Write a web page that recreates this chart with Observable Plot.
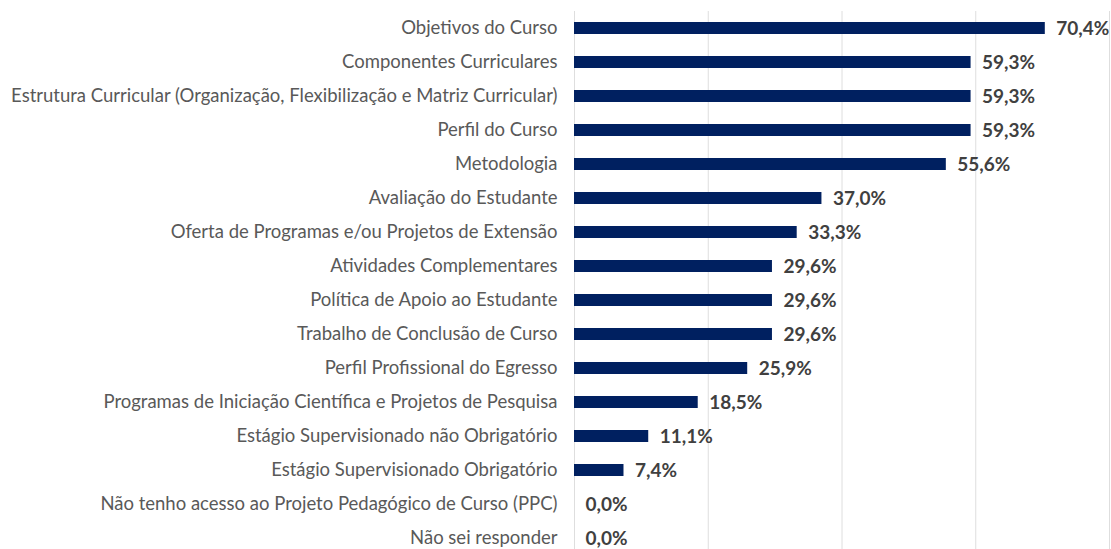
<!DOCTYPE html>
<html>
<head>
<meta charset="utf-8">
<script src="https://cdn.jsdelivr.net/npm/d3@7"></script>
<script src="https://cdn.jsdelivr.net/npm/@observablehq/plot@0.6"></script>
<style>
  html, body { margin: 0; padding: 0; background: #fff; }
  #chart { width: 1111px; height: 549px; overflow: hidden; }
</style>
</head>
<body>
<div id="chart"></div>
<script>
const categories = [
  "Objetivos do Curso",
  "Componentes Curriculares",
  "Estrutura Curricular (Organização, Flexibilização e Matriz Curricular)",
  "Perfil do Curso",
  "Metodologia",
  "Avaliação do Estudante",
  "Oferta de Programas e/ou Projetos de Extensão",
  "Atividades Complementares",
  "Política de Apoio ao Estudante",
  "Trabalho de Conclusão de Curso",
  "Perfil Profissional do Egresso",
  "Programas de Iniciação Científica e Projetos de Pesquisa",
  "Estágio Supervisionado não Obrigatório",
  "Estágio Supervisionado Obrigatório",
  "Não tenho acesso ao Projeto Pedagógico de Curso (PPC)",
  "Não sei responder"
];
const values = [70.4, 59.3, 59.3, 59.3, 55.6, 37.0, 33.3, 29.6, 29.6, 29.6, 25.9, 18.5, 11.1, 7.4, 0.0, 0.0];
const gridTicks = [0, 20, 40, 60, 80];

const data = categories.map((c, i) => ({category: c, value: values[i]}));
const fmt = v => v.toFixed(1).replace(".", ",") + "%";

const chart = Plot.plot({
  width: 1111,
  height: 549,
  marginLeft: 574,
  marginRight: 2,
  marginTop: 11,
  marginBottom: 0,
  style: {fontFamily: "Lato, 'Open Sans', sans-serif", background: "#fff"},
  x: {domain: [0, 80], axis: null},
  y: {domain: categories, paddingInner: 0.647, paddingOuter: 0.3235, range: [11.3, 555.3], label: null},
  marks: [
    Plot.ruleX(gridTicks, {stroke: "#dedede", strokeWidth: 1}),
    Plot.barX(data, {y: "category", x: "value", fill: "#002060"}),
    Plot.text(data, {y: "category", x: "value", text: d => fmt(d.value), dx: 11, textAnchor: "start",
      fontWeight: "bold", fontSize: 19, fill: "#404040"}),
    Plot.axisY({tickSize: 0, tickPadding: 17, fontSize: 18.5, color: "#595959", label: null})
  ]
});
document.getElementById("chart").appendChild(chart);
</script>
</body>
</html>
